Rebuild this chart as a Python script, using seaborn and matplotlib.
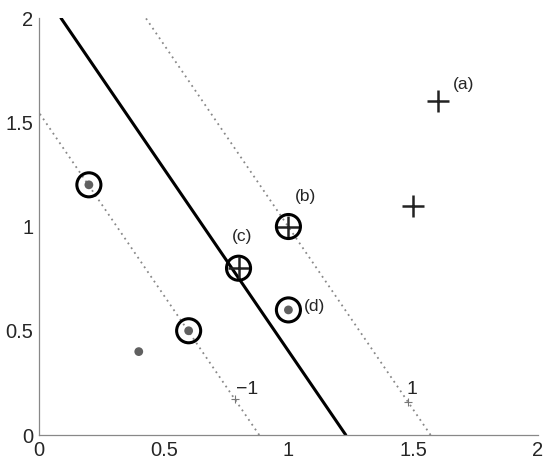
import numpy as np
import pandas as pd
import seaborn as sns
import matplotlib
matplotlib.use('Agg')
import matplotlib.pyplot as plt

# --- DATA ---
# separating line and the two margin lines (x at y=0 and y=2)
line_y = [0.0, 2.0]
solid_x = [1.23, 0.088]
margin_neg_x = [0.883, -0.259]
margin_pos_x = [1.57, 0.428]

# class points
dot_x = [0.2, 0.6, 0.4, 1.0]
dot_y = [1.2, 0.5, 0.4, 0.6]
plus_x = [1.6, 1.5, 1.0, 0.8]
plus_y = [1.6, 1.1, 1.0, 0.8]
# support vectors (circled)
sv_x = [0.2, 0.6, 1.0, 1.0, 0.8]
sv_y = [1.2, 0.5, 0.6, 1.0, 0.8]

# small markers on the margins with their labels
tick_x = [0.786, 1.479]
tick_y = [0.173, 0.158]
tick_labels = ['\u22121', '1']
tick_lab_x = [0.79, 1.475]
tick_lab_y = [0.22, 0.216]

# point labels
lab_text = ['(a)', '(b)', '(c)', '(d)']
lab_x = [1.66, 1.026, 0.774, 1.062]
lab_y = [1.68, 1.146, 0.95, 0.614]

# --- PLOT ---
sns.set_style('white')
plt.rcParams['font.family'] = ['Liberation Sans', 'DejaVu Sans']

fig = plt.figure(figsize=(5.5, 4.68), dpi=100)
ax = fig.add_axes([0.0709, 0.0705, 0.907, 0.891])

sns.lineplot(x=solid_x, y=line_y, color='black', lw=2.2, sort=False, ax=ax)
for mx in (margin_neg_x, margin_pos_x):
    sns.lineplot(x=mx, y=line_y, color='#888888', lw=1.3, ls=(0, (1, 2.2)),
                 sort=False, ax=ax)

sns.scatterplot(x=dot_x, y=dot_y, color='#606060', s=40, edgecolor='none',
                zorder=3, ax=ax)
sns.scatterplot(x=plus_x, y=plus_y, marker='+', color='#222222', s=260,
                linewidth=1.8, zorder=3, ax=ax)
sns.scatterplot(x=sv_x, y=sv_y, marker='o', facecolor='none',
                edgecolor='black', s=300, linewidth=2.2, zorder=4, ax=ax)
sns.scatterplot(x=tick_x, y=tick_y, marker='+', color='#777777', s=30,
                linewidth=0.8, zorder=3, ax=ax)

for t, x, y in zip(tick_labels, tick_lab_x, tick_lab_y):
    ax.text(x, y, t, fontsize=14, ha='left', va='center')
for t, x, y in zip(lab_text, lab_x, lab_y):
    ax.text(x, y, t, fontsize=12.5, ha='left', va='center')

ax.set_xlim(0, 2)
ax.set_ylim(0, 2)
ax.set_xticks([0, 0.5, 1, 1.5, 2])
ax.set_yticks([0, 0.5, 1, 1.5, 2])
ax.set_xticklabels(['0', '0.5', '1', '1.5', '2'])
ax.set_yticklabels(['0', '0.5', '1', '1.5', '2'])
ax.tick_params(direction='in', length=5, width=0.8, labelsize=14.5,
               color='#777777', pad=4)
for side in ('top', 'right'):
    ax.spines[side].set_visible(False)
for side in ('left', 'bottom'):
    ax.spines[side].set_color('#888888')
    ax.spines[side].set_linewidth(0.9)

fig.savefig('out.png', dpi=100)
